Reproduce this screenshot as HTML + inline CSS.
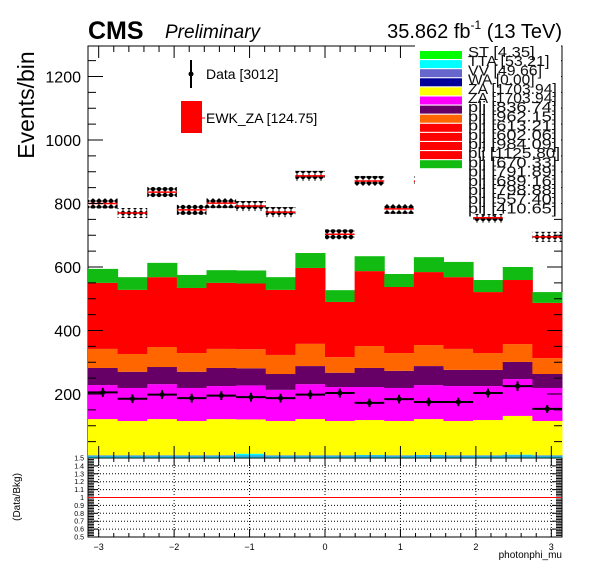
<!DOCTYPE html>
<html><head><meta charset="utf-8"><style>
html,body{margin:0;padding:0;background:#fff;}
svg{display:block;font-family:"Liberation Sans",sans-serif;}
</style></head><body>
<svg id="c" width="596" height="572" viewBox="0 0 596 572">
<defs>
<pattern id="hatch" width="6" height="6" patternUnits="userSpaceOnUse">
<rect width="6" height="6" fill="#fff"/>
<path d="M3 0 L6 3 L3 6 L0 3 Z" fill="#000"/>
</pattern>
</defs>
<rect x="88" y="46" width="474" height="412" fill="#fff" stroke="#000" stroke-width="1"/>
<g id="stack"></g><g id="unc"></g><g id="data"></g><g id="axes"></g>
<text x="88" y="39" font-size="25" font-weight="bold">CMS</text>
<text x="165" y="38" font-size="19" font-style="italic">Preliminary</text>
<text x="562" y="38" font-size="20" text-anchor="end">35.862 fb<tspan font-size="12" dy="-9">-1</tspan><tspan dy="9"> (13 TeV)</tspan></text>
<text transform="translate(34,105) rotate(-90)" font-size="23" text-anchor="middle">Events/bin</text>
<text transform="translate(20,497) rotate(-90)" font-size="10" text-anchor="middle">(Data/Bkg)</text>
<text x="562" y="558" font-size="10" text-anchor="end">photonphi_mu</text>
<g>
<line x1="191" y1="60" x2="191" y2="88" stroke="#000" stroke-width="2"/><circle cx="191" cy="74" r="2.5" fill="#000"/>
<text x="206" y="79" font-size="14">Data [3012]</text></g>
<g>
<rect x="181" y="101" width="21" height="32" fill="#f00"/><line x1="202" y1="118" x2="205" y2="118" stroke="#f00"/>
<text x="206" y="123" font-size="14">EWK_ZA [124.75]</text></g>
<g id="legend"></g>
<rect x="88" y="458" width="474" height="79" fill="#fff" stroke="#000"/>
<g id="ratio"></g>
</svg>
<script>
const edges0 = -Math.PI, edges1 = Math.PI, nbins = 16;
const dataVals = [205,185,198,187,195,190,187,198,203,172,184,175,175,203,225,153];
const baseVals = [7,7,7,7,7,12,7,7,7,8,7,8,7,7,9,7];
const yellowVals = [114,108,114,108,114,108,108,114,108,110,108,113,108,111,122,108];
const magentaVals = [107,104,110,104,104,107,98,110,107,104,104,107,110,107,116,104];
const purpleVals = [54,51,54,51,57,54,50,57,45,60,54,60,51,51,54,44];
const orangeVals = [60,56,63,59,60,60,60,70,49,69,56,66,66,53,56,50];
const redVals = [208,202,220,205,208,207,205,239,174,236,208,230,226,192,202,174];
const greenVals = [44,40,45,41,40,41,40,47,37,47,41,47,48,38,41,34];
const uncVals = [800,770,836,780,801,792,773,887,703,871,783,870,840,755,860,695];
const yTicks = [200,400,600,800,1000,1200];
const ratioTicks = ["0.5","0.6","0.7","0.8","0.9","1","1.1","1.2","1.3","1.4","1.5"];
const xTickLabels = [-3,-2,-1,0,1,2,3];
const legendLabels = ["ST [4.35]","TTA [53.21]","VV [49.66]","WA [0.00]","ZA [1703.94]","ZA [1703.94]","plj [836.74]","plj [962.15]","plj [613.21]","plj [602.06]","plj [984.09]","plj [1125.80]","plj [670.33]","plj [791.89]","plj [689.16]","plj [798.88]","plj [557.40]","plj [410.65]"];

const NS="http://www.w3.org/2000/svg";
const X0=88,X1=562,YB=458,YT=46;
const sx=v=>X0+(v-edges0)/(edges1-edges0)*(X1-X0);
const sy=v=>457.5-v*0.3175;
const ry=v=>537-(v-0.5)*79;
const bw=(edges1-edges0)/nbins;
function mk(tag,attrs,parent){const e=document.createElementNS(NS,tag);for(const k in attrs)e.setAttribute(k,attrs[k]);parent.appendChild(e);return e;}
const gS=document.getElementById('stack'),gU=document.getElementById('unc'),gD=document.getElementById('data'),gA=document.getElementById('axes'),gL=document.getElementById('legend'),gR=document.getElementById('ratio');

const layers=[[baseVals,'#00ffff','base'],[yellowVals,'#ffff00','za-yellow'],[magentaVals,'#ff00ff','za-magenta'],[purpleVals,'#660066','plj-purple'],[orangeVals,'#ff6600','plj-orange'],[redVals,'#ff0000','plj-red'],[greenVals,'#11bb11','plj-green']];
for(let i=0;i<nbins;i++){
  let cum=0;const xa=sx(edges0+i*bw),xb=sx(edges0+(i+1)*bw);
  for(const [arr,col,nm] of layers){
    const y1=sy(cum+arr[i]),y0=sy(cum);
    const r=mk('rect',{x:xa,y:y1,width:xb-xa+0.5,height:y0-y1,fill:col},gS);
    
    
    cum+=arr[i];
  }
  const slate=mk('rect',{x:xa,y:sy(6),width:xb-xa+0.5,height:sy(3)-sy(6),fill:'#6666cc'},gS);
  
  
  const u=uncVals[i];
  const h=mk('rect',{x:xa,y:sy(u)-5,width:xb-xa,height:10,fill:'url(#hatch)'},gU);
  
  
  mk('line',{x1:xa,x2:xb,y1:sy(u),y2:sy(u),stroke:'#f00','stroke-width':1.5},gU);
  const d=dataVals[i],xc=(xa+xb)/2,e=Math.sqrt(d)*0.3175;
  const g=mk('g',{},gD);
  
  
  mk('line',{x1:xa,x2:xb,y1:sy(d),y2:sy(d),stroke:'#000','stroke-width':2},g);
  mk('line',{x1:xc,x2:xc,y1:sy(d)-e,y2:sy(d)+e,stroke:'#000','stroke-width':2},g);
  mk('circle',{cx:xc,cy:sy(d),r:2.5,fill:'#000'},g);
}
// legend
mk('rect',{x:415,y:44,width:146,height:170,fill:'#fff'},gL);
const boxCols=['#00ff00','#00ffff','#6666cc','#000099','#ffff00','#ff00ff','#660066','#ff6600','#ff0000','#ff0000','#ff0000','#ff0000','#11bb11'];
for(let i=0;i<boxCols.length;i++){
  const b=mk('rect',{x:420,y:51+i*9.1,width:42,height:8,fill:boxCols[i]},gL);
  
  
}
for(let i=0;i<legendLabels.length;i++){
  const t=mk('text',{x:468,y:57+i*9.2,'font-size':15,fill:'#111',textLength:Math.min(92,legendLabels[i].length*7.4),lengthAdjust:'spacingAndGlyphs'},gL);
  t.textContent=legendLabels[i];
  
  
}
// y axis main
for(let v=50;v<=1290;v+=50){
  const major=v%200===0,L=major?15:8;
  mk('line',{x1:X0,x2:X0+L,y1:sy(v),y2:sy(v),stroke:'#000'},gA);
  mk('line',{x1:X1,x2:X1-L,y1:sy(v),y2:sy(v),stroke:'#000'},gA);
}
for(const v of yTicks){
  const t=mk('text',{x:81,y:sy(v)+6,'font-size':16,'text-anchor':'end'},gA);
  t.textContent=v;
  
  
}
// x ticks
for(let k=-15;k<=15;k++){
  const v=k/5,major=k%5===0,x=sx(v);
  mk('line',{x1:x,x2:x,y1:YB,y2:YB-(major?12:6),stroke:'#000'},gA);
  mk('line',{x1:x,x2:x,y1:YT,y2:YT+(major?12:6),stroke:'#000'},gA);
  mk('line',{x1:x,x2:x,y1:537,y2:537-(major?8:4),stroke:'#000'},gR);
  mk('line',{x1:x,x2:x,y1:458,y2:458+(major?8:4),stroke:'#000'},gR);
}
// ratio
for(let k=0;k<=50;k++){
  const v=0.5+k*0.02,y=ry(v),L=k%5===0?10:6;
  mk('line',{x1:X0,x2:X0+L,y1:y,y2:y,stroke:'#000'},gR);
  mk('line',{x1:X1,x2:X1-L,y1:y,y2:y,stroke:'#000'},gR);
}
ratioTicks.forEach(s=>{
  const v=parseFloat(s);
  if(v>0.5&&v<1.5&&s!=="1")mk('line',{x1:X0,x2:X1,y1:ry(v),y2:ry(v),stroke:'#000','stroke-dasharray':'1,2'},gR);
  const t=mk('text',{x:84,y:ry(v)+2.5,'font-size':7,'text-anchor':'end'},gR);
  t.textContent=s;
  
  
});
xTickLabels.forEach(v=>{
  mk('line',{x1:sx(v),x2:sx(v),y1:458,y2:537,stroke:'#000','stroke-dasharray':'1,2'},gR);
  const t=mk('text',{x:sx(v),y:550,'font-size':9,'text-anchor':'middle'},gR);
  t.textContent=v<0?'\u2212'+(-v):v;
  
  
});
const rl=mk('line',{x1:X0,x2:X1,y1:ry(1),y2:ry(1),stroke:'#f00','stroke-width':1},gR);


</script>
</body></html>
